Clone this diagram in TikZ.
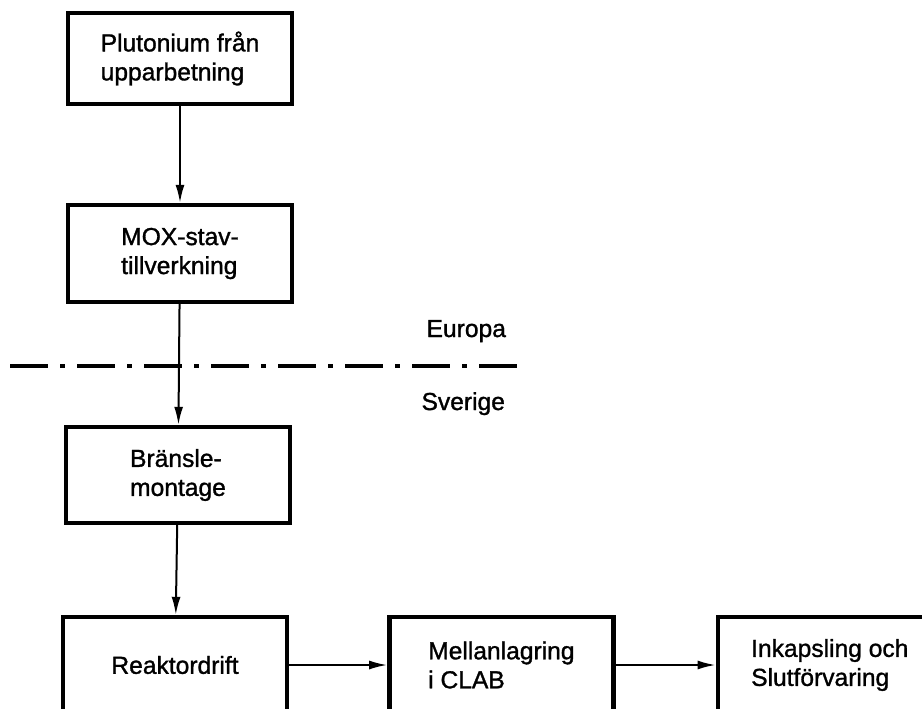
\documentclass[tikz,border=0pt]{standalone}
\usepackage{fontspec}
\setmainfont{Liberation Sans}[BoldFont={Liberation Sans},BoldFeatures={FakeBold=1.2}]
\usetikzlibrary{arrows.meta,positioning}

\tikzset{
  stage/.style={draw, line width=2.2pt, minimum width=112pt, minimum height=48pt,
    inner sep=0pt, align=left},
  flow/.style={-{Latex[length=9pt,width=4.5pt]}, line width=1pt},
  border/.style={line width=1.6pt, dash pattern=on 19pt off 6pt on 2.5pt off 6pt},
}

\begin{document}
\begin{tikzpicture}[x=0.5pt,y=-0.5pt,font=\fontsize{12.3}{14.5}\selectfont\bfseries]
        \clip (0,0) rectangle (922,708);

        \node[stage, minimum height=45.5pt] (plu) at (180,58.5) {Plutonium från\\upparbetning};
        \node[stage, minimum height=48.5pt] (mox) at (180,253.5) {MOX-stav-\\tillverkning};
        \node[stage] (mon) at (178,475) {Bränsle-\\montage};

        % nedersta raden
        \node[stage] (rea) at (175,665) {Reaktordrift};
        \node[stage, right=49pt of rea] (clab) {Mellanlagring\\i CLAB};
        \node[stage, right=50pt of clab] (slut) {Inkapsling och\\Slutförvaring};

        \draw[flow] (plu) -- (mox);
        \draw[flow] (mox) -- (mon);
        \draw[flow] (mon) -- (rea);
        \draw[flow] (rea) -- (clab);
        \draw[flow] (clab) -- (slut);

        % gränsen
        \coordinate (gv) at (10,366);
        \coordinate (go) at (527,366);
        \draw[border] (gv) -- (go);
        \node[anchor=base east] (eur) at (513,337) {Europa};
        \node[anchor=base east] (sve) at (512,410) {Sverige};
    \end{tikzpicture}
\end{document}
